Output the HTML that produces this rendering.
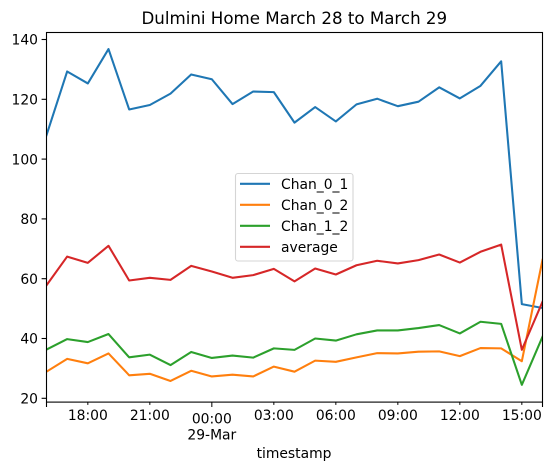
<!DOCTYPE html>
<html>
<head>
<meta charset="utf-8">
<title>Dulmini Home March 28 to March 29</title>
<style>
html,body{margin:0;padding:0;background:#fff;width:552px;height:471px;overflow:hidden}
svg{display:block}
text{font-family:"DejaVu Sans","Liberation Sans",sans-serif;fill:#000;font-size:13.89px}
</style>
</head>
<body>
<svg id="chart" width="552" height="471" viewBox="0 0 552 471" xmlns="http://www.w3.org/2000/svg">
  <defs><clipPath id="plot-clip"><rect x="46.5" y="32.5" width="496" height="369.6"/></clipPath></defs>
  <text x="294.3" y="24" text-anchor="middle" style="font-size:16.67px">Dulmini Home March 28 to March 29</text>
  <g id="series-layer" clip-path="url(#plot-clip)"></g>
  <g id="axis-layer"></g>
  <rect x="46.5" y="32.5" width="496" height="369.6" fill="none" stroke="#000" stroke-width="1.1"/>
  <text x="294" y="458" text-anchor="middle">timestamp</text>
  <g>
    <rect x="235.5" y="173.5" width="117.5" height="87.5" rx="2.5" fill="#fff" fill-opacity="0.8" stroke="#d5d5d5" stroke-width="1.1"/>
    <g id="legend-layer"></g>
  </g>
</svg>
<script>
const hours = ["16","17","18","19","20","21","22","23","00","01","02","03","04","05","06","07","08","09","10","11","12","13","14","15","16"];
const chan01 = [108,129.3,125.3,136.8,116.6,118.1,121.9,128.3,126.7,118.4,122.6,122.4,112.2,117.4,112.6,118.3,120.2,117.7,119.2,124,120.3,124.5,132.7,51.5,50.2];
const chan02 = [28.9,33.2,31.7,35,27.7,28.2,25.8,29.2,27.3,27.9,27.3,30.6,28.9,32.6,32.2,33.7,35.1,35,35.6,35.7,34.1,36.8,36.7,32.4,66.3];
const chan12 = [36.3,39.8,38.8,41.5,33.7,34.6,31.1,35.5,33.5,34.3,33.6,36.7,36.2,40,39.3,41.4,42.7,42.7,43.5,44.5,41.7,45.6,44.9,24.5,40.6];
const average = [57.8,67.4,65.3,71,59.4,60.3,59.6,64.3,62.4,60.3,61.2,63.3,59.1,63.4,61.4,64.5,66,65.1,66.2,68.1,65.4,69,71.4,36.2,52.3];
const seriesNames = ["Chan_0_1","Chan_0_2","Chan_1_2","average"];
const seriesColors = ["#1f77b4","#ff7f0e","#2ca02c","#d62728"];
const seriesValues = [chan01,chan02,chan12,average];
const yTicks = [20,40,60,80,100,120,140];
const xTickIndexes = [2,5,8,11,14,17,20,23];
const xTickLabels = ["18:00","21:00","00:00","03:00","06:00","09:00","12:00","15:00"];
const xEndTicks = [0,24];

const NS = "http://www.w3.org/2000/svg";
const seriesLayer = document.getElementById("series-layer");
const axisLayer = document.getElementById("axis-layer");
const legendLayer = document.getElementById("legend-layer");

function xScale(i){ return 46.5 + i * (496 / (hours.length - 1)); }
function yScale(v){ return 398.3 - (v - 20) * 2.99; }
function make(tag, attrs, parent){
  const el = document.createElementNS(NS, tag);
  for (const k in attrs) el.setAttribute(k, attrs[k]);
  parent.appendChild(el);
  return el;
}

seriesValues.forEach(function(vals, s){
  const d = vals.map(function(v, i){ return (i ? "L" : "M") + xScale(i).toFixed(2) + " " + yScale(v).toFixed(2); }).join(" ");
  const line = make("path", {d:d, fill:"none", stroke:seriesColors[s], "stroke-width":2.08, "stroke-linejoin":"round", "stroke-linecap":"square"}, seriesLayer);
  
  
});

yTicks.forEach(function(t){
  const y = yScale(t);
  const tick = make("line", {x1:41.6, x2:46.5, y1:y, y2:y, stroke:"#000", "stroke-width":1.1}, axisLayer);
  
  
  const label = make("text", {x:38, y:y + 5.2, "text-anchor":"end"}, axisLayer);
  
  
  label.textContent = t;
});

xEndTicks.forEach(function(i){
  const x = xScale(i);
  const tick = make("line", {x1:x, x2:x, y1:402.1, y2:407, stroke:"#000", "stroke-width":1.1}, axisLayer);
  
  
});

xTickIndexes.forEach(function(i, n){
  const x = xScale(i);
  const isMajor = xTickLabels[n] === "00:00";
  const tick = make("line", {x1:x, x2:x, y1:402.1, y2:isMajor ? 407 : 404.9, stroke:"#000", "stroke-width":1}, axisLayer);
  
  
  const label = make("text", {x:x, y:isMajor ? 423.5 : 420, "text-anchor":"middle"}, axisLayer);
  
  
  label.textContent = xTickLabels[n];
});

const dateLabel = make("text", {x:xScale(8), y:439.5, "text-anchor":"middle"}, axisLayer);


dateLabel.textContent = "29-Mar";

seriesNames.forEach(function(name, s){
  const y = 183.8 + s * 21;
  const key = make("line", {x1:240, x2:270, y1:y, y2:y, stroke:seriesColors[s], "stroke-width":2.08}, legendLayer);
  
  
  const label = make("text", {x:281, y:y + 5}, legendLayer);
  
  
  label.textContent = name;
});
</script>
</body>
</html>
